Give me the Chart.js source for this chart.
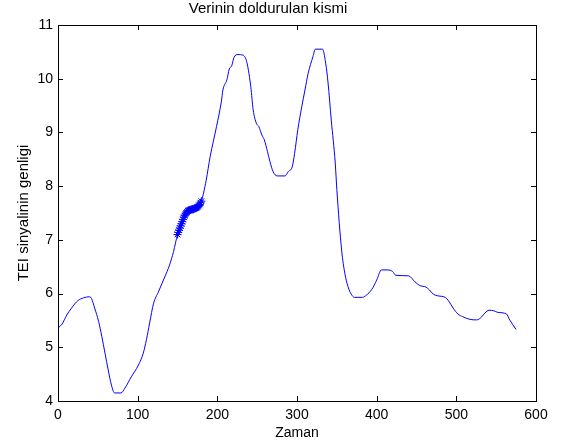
<!DOCTYPE html>
<html>
<head>
<meta charset="utf-8">
<script src="https://cdn.jsdelivr.net/npm/chart.js@4.4.0/dist/chart.umd.min.js"></script>
<style>
  html, body { margin: 0; padding: 0; background: #fff; }
  #wrap { width: 561px; height: 446px; }
</style>
</head>
<body>
<div id="wrap"><canvas id="chart" width="561" height="446"></canvas></div>
<script>
// signal values
const zaman = [1, 5, 11, 17, 25, 32, 39, 42, 46, 51, 55, 59, 63, 67, 71, 79, 84, 92, 101, 107,
  111, 115, 120, 126, 134, 140, 145, 150, 155, 160, 165, 170, 175, 180, 186, 191, 199, 205, 207, 212,
  215, 218, 221, 226, 232, 236, 239, 242, 245, 249, 252, 256, 259, 263, 266, 270, 275, 285, 289, 294,
  297, 301, 306, 310, 314, 320, 323, 332, 336, 339, 343, 348, 350, 356, 360, 364, 368, 372, 382, 387,
  394, 400, 406, 414, 420, 424, 440, 448, 454, 462, 466, 471, 476, 486, 490, 496, 502, 508, 517, 525,
  530, 536, 541, 547, 552, 563, 567, 575];
const genlik = [5.37, 5.43, 5.6, 5.73, 5.87, 5.92, 5.94, 5.91, 5.73, 5.48, 5.2, 4.89, 4.58, 4.3, 4.15, 4.15, 4.24, 4.45, 4.67, 4.89,
  5.14, 5.45, 5.82, 6.03, 6.31, 6.53, 6.78, 7.1, 7.3, 7.48, 7.55, 7.57, 7.61, 7.72, 8.11, 8.55, 9.11, 9.57, 9.79, 9.98,
  10.18, 10.24, 10.4, 10.45, 10.44, 10.36, 10.16, 9.85, 9.42, 9.17, 9.11, 8.95, 8.86, 8.64, 8.46, 8.27, 8.19, 8.19, 8.27, 8.36,
  8.61, 9.05, 9.48, 9.79, 10.1, 10.41, 10.55, 10.55, 10.29, 9.92, 9.23, 8.43, 7.94, 6.81, 6.38, 6.13, 5.99, 5.93, 5.93, 5.97,
  6.08, 6.25, 6.44, 6.44, 6.41, 6.34, 6.33, 6.22, 6.15, 6.12, 6.07, 5.99, 5.96, 5.93, 5.87, 5.73, 5.62, 5.57, 5.52, 5.51,
  5.54, 5.64, 5.69, 5.68, 5.65, 5.62, 5.51, 5.33];

// filled-in part (asterisk markers)
const dolguX = [150, 151, 152, 153, 154, 155, 156, 157, 158, 159, 160, 161, 162, 163, 164, 165,
  166, 167, 168, 169, 170, 171, 172, 173, 174, 175, 176, 177, 178, 179, 180];
const dolguY = [7.10, 7.14, 7.18, 7.22, 7.26, 7.30, 7.34, 7.38, 7.42, 7.45, 7.48, 7.50, 7.52, 7.54, 7.55, 7.55,
  7.56, 7.56, 7.57, 7.57, 7.57, 7.58, 7.59, 7.59, 7.60, 7.61, 7.62, 7.64, 7.66, 7.69, 7.72];

const xTicks = [0, 100, 200, 300, 400, 500, 600];
const yTicks = [4, 5, 6, 7, 8, 9, 10, 11];

const FONT = "'Liberation Sans', Arial, Helvetica, sans-serif";

// matlab style box with inward ticks on all four sides
const boxPlugin = {
  id: "box",
  afterDraw(chart) {
    const ctx = chart.ctx;
    const a = chart.chartArea;
    const xs = chart.scales.x, ys = chart.scales.y;
    const len = 5;
    ctx.save();
    ctx.strokeStyle = "#000";
    ctx.lineWidth = 1;
    ctx.beginPath();
    xTicks.forEach(v => {
      const px = Math.round(xs.getPixelForValue(v)) + 0.5;
      ctx.moveTo(px, a.bottom); ctx.lineTo(px, a.bottom - len);
      ctx.moveTo(px, a.top); ctx.lineTo(px, a.top + len);
    });
    yTicks.forEach(v => {
      const py = Math.round(ys.getPixelForValue(v)) + 0.5;
      ctx.moveTo(a.left, py); ctx.lineTo(a.left + len, py);
      ctx.moveTo(a.right, py); ctx.lineTo(a.right - len, py);
    });
    ctx.stroke();
    ctx.strokeRect(Math.round(a.left) + 0.5, Math.round(a.top) + 0.5,
      Math.round(a.right - a.left), Math.round(a.bottom - a.top));
    ctx.restore();
  }
};

new Chart(document.getElementById("chart"), {
  type: "line",
  data: {
    datasets: [
      {
        data: zaman.map((x, i) => ({ x: x, y: genlik[i] })),
        borderColor: "#0000ff",
        borderWidth: 1,
        pointRadius: 0,
        cubicInterpolationMode: "monotone",
        fill: false
      },
      {
        data: dolguX.map((x, i) => ({ x: x, y: dolguY[i] })),
        showLine: false,
        pointStyle: "star",
        pointRadius: 4,
        borderColor: "#0000ff",
        borderWidth: 1
      }
    ]
  },
  options: {
    responsive: false,
    animation: false,
    layout: { padding: { left: 0, right: 25, top: 0, bottom: 0 }, autoPadding: false },
    plugins: {
      legend: { display: false },
      tooltip: { enabled: false },
      title: {
        display: true,
        text: "Verinin doldurulan kismi",
        color: "#000",
        font: { family: FONT, size: 15, weight: "normal" },
        padding: { top: 0, bottom: 7 }
      }
    },
    scales: {
      x: {
        type: "linear",
        min: 0, max: 600,
        grid: { display: false, drawTicks: false },
        border: { display: false },
        afterBuildTicks: s => { s.ticks = xTicks.map(v => ({ value: v })); },
        afterFit: s => { s.height = 45; },
        ticks: { color: "#000", padding: 6, maxRotation: 0, font: { family: FONT, size: 14 } },
        title: { display: true, text: "Zaman", color: "#000", font: { family: FONT, size: 14 }, padding: { top: 0, bottom: 4 } }
      },
      y: {
        min: 4, max: 11,
        grid: { display: false, drawTicks: false },
        border: { display: false },
        afterBuildTicks: s => { s.ticks = yTicks.map(v => ({ value: v })); },
        afterFit: s => { s.width = 58; },
        ticks: { color: "#000", padding: 5, font: { family: FONT, size: 14 } },
        title: { display: true, text: "TEI sinyalinin genligi", color: "#000", font: { family: FONT, size: 15 }, padding: { top: 15, bottom: 0 } }
      }
    }
  },
  plugins: [boxPlugin]
});
</script>
</body>
</html>
